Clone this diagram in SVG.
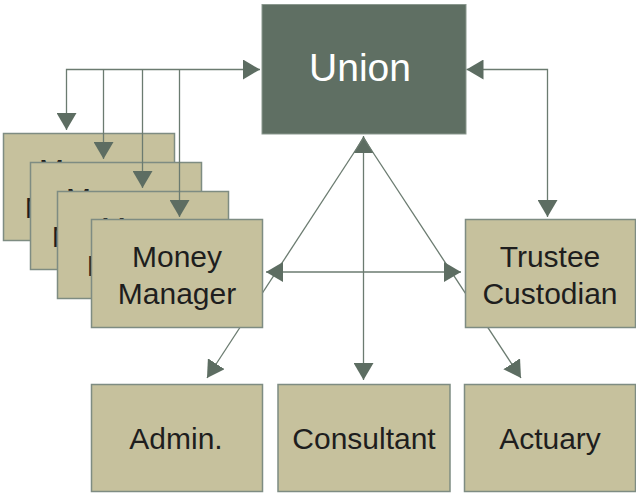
<svg xmlns="http://www.w3.org/2000/svg" width="636" height="493" viewBox="0 0 636 493">
  <style>
    .box { fill: #c6c19d; stroke: #7e8c82; stroke-width: 1.5; }
    .union { fill: #5f6f63; stroke: #8a988e; stroke-width: 1; }
    .lbl { font-family: "Liberation Sans", Arial, sans-serif; font-size: 30px; fill: #1e1e1e; text-anchor: middle; }
    .ulbl { font-family: "Liberation Sans", Arial, sans-serif; font-size: 39px; fill: #ffffff; text-anchor: middle; }
    .wire { fill: none; stroke: #6b7b70; stroke-width: 1.3; }
  </style>
  <defs>
    <marker id="head" markerUnits="userSpaceOnUse" markerWidth="18" markerHeight="20" viewBox="0 0 18 20" refX="17" refY="10" orient="auto-start-reverse">
      <path d="M0,0 L17,10 L0,20 Z" fill="#5d6d62"/>
    </marker>
  </defs>

  <!-- stacked money-manager cards behind the front one -->
  <g id="money-manager-1">
    <rect class="box" x="3.5" y="133.5" width="171" height="107"/>
    <text class="lbl" x="84" y="180">Money</text>
    <text class="lbl" x="84" y="218">Manager</text>
  </g>
  <g id="money-manager-2">
    <rect class="box" x="30.5" y="162.5" width="171" height="107"/>
    <text class="lbl" x="111" y="209">Money</text>
    <text class="lbl" x="111" y="247">Manager</text>
  </g>
  <g id="money-manager-3">
    <rect class="box" x="57.5" y="191.5" width="171" height="107"/>
    <text class="lbl" x="146" y="238">Money</text>
    <text class="lbl" x="146" y="276">Manager</text>
  </g>

  <g id="connectors">
    <!-- union bus to each money manager -->
    <path class="wire" d="M260,69.5 H66.5 V130" marker-start="url(#head)" marker-end="url(#head)"/>
    <path class="wire" d="M103.5,69.5 V159" marker-end="url(#head)"/>
    <path class="wire" d="M142.5,69.5 V188" marker-end="url(#head)"/>
    <path class="wire" d="M179.5,69.5 V217" marker-end="url(#head)"/>
    <!-- union to trustee custodian -->
    <path class="wire" d="M466.5,69.5 H547.5 V217" marker-start="url(#head)" marker-end="url(#head)"/>
    <!-- union to consultant -->
    <path class="wire" d="M363.5,136 V380" marker-start="url(#head)" marker-end="url(#head)"/>
    <!-- diagonals from union -->
    <path class="wire" d="M363.5,138 L207,378" marker-end="url(#head)"/>
    <path class="wire" d="M363.5,138 L521,378" marker-end="url(#head)"/>
    <!-- money manager to trustee custodian -->
    <path class="wire" d="M266,272 H461" marker-start="url(#head)" marker-end="url(#head)"/>
  </g>

  <g id="union">
    <rect class="union" x="262" y="4.5" width="204" height="129.5"/>
    <text class="ulbl" x="360" y="81">Union</text>
  </g>
  <g id="money-manager">
    <rect class="box" x="91.5" y="219.5" width="171" height="108"/>
    <text class="lbl" x="177" y="267">Money</text>
    <text class="lbl" x="177" y="304">Manager</text>
  </g>
  <g id="trustee-custodian">
    <rect class="box" x="465.5" y="219.5" width="170" height="108"/>
    <text class="lbl" x="550" y="267">Trustee</text>
    <text class="lbl" x="550" y="304">Custodian</text>
  </g>
  <g id="admin">
    <rect class="box" x="91.5" y="384.5" width="171" height="107"/>
    <text class="lbl" x="176" y="449">Admin.</text>
  </g>
  <g id="consultant">
    <rect class="box" x="278" y="384.5" width="172" height="107"/>
    <text class="lbl" x="364" y="449">Consultant</text>
  </g>
  <g id="actuary">
    <rect class="box" x="464.5" y="384.5" width="171" height="107"/>
    <text class="lbl" x="550" y="449">Actuary</text>
  </g>
</svg>
